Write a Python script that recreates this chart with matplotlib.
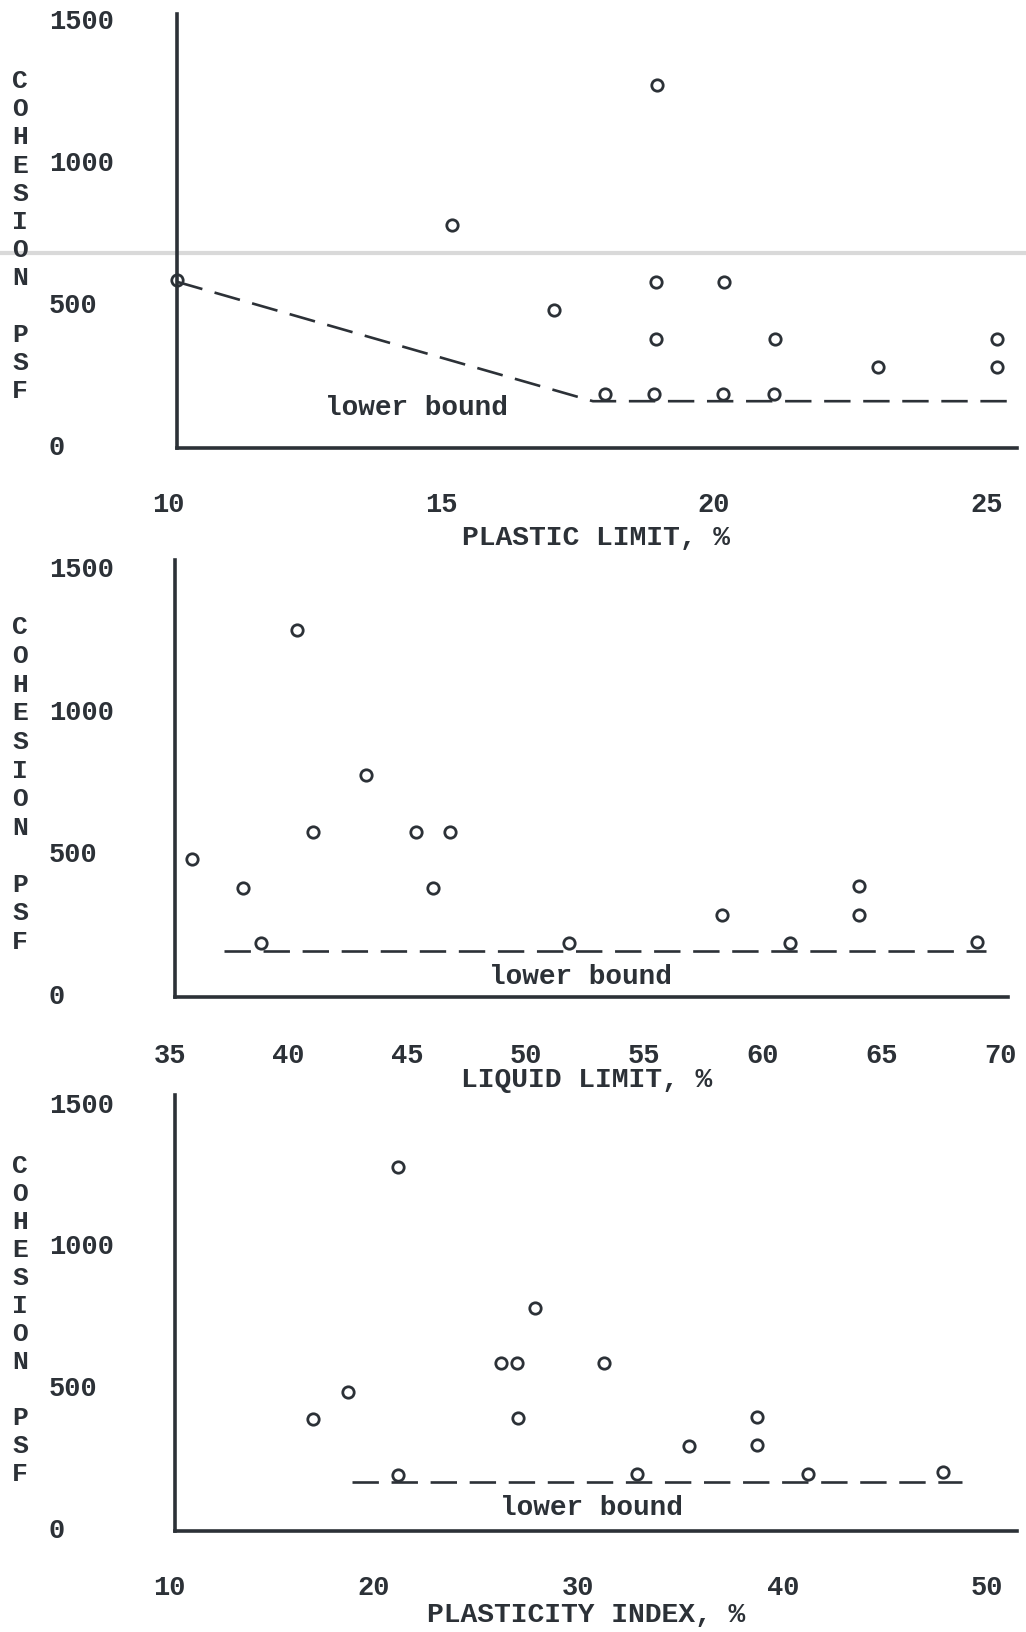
import matplotlib
matplotlib.use('Agg')
import matplotlib.pyplot as plt
import matplotlib.transforms as mtransforms
from matplotlib.lines import Line2D

# Données (cohésion en psf)
pl_x = [10.16, 15.2, 18.96, 17.07, 18.94, 20.19, 18.94, 21.12, 23.0, 25.19, 25.19, 18.0, 18.9, 20.17, 21.1]
pl_y = [590, 785, 1280, 485, 585, 585, 385, 385, 285, 385, 285, 190, 190, 190, 190]
pl_bound_x = [10.16, 17.78, 25.55]
pl_bound_y = [585, 164, 164]

ll_x = [35.93, 38.08, 38.84, 40.36, 41.03, 43.27, 45.38, 46.81, 46.09, 51.83, 58.28, 61.14, 64.05, 64.05, 69.03]
ll_y = [485, 385, 190, 1290, 580, 780, 580, 580, 385, 190, 290, 190, 390, 290, 195]
ll_bound_x = [37.3, 69.4]
ll_bound_y = [163, 163]

pi_x = [17.02, 18.73, 21.18, 21.18, 26.22, 27.0, 27.88, 27.05, 31.25, 32.87, 35.41, 38.73, 38.73, 41.22, 47.83]
pi_y = [393, 491, 1284, 195, 591, 591, 786, 396, 591, 201, 298, 402, 301, 201, 207]
pi_bound_x = [18.93, 48.76]
pi_bound_y = [173, 173]

y_ticks = [0, 500, 1000, 1500]
pl_ticks = [10, 15, 20, 25]
ll_ticks = [35, 40, 45, 50, 55, 60, 65, 70]
pi_ticks = [10, 20, 30, 40, 50]

W, H = 1026, 1632
INK = '#2c3137'
FONT = 'Liberation Mono'

plt.rcParams['font.family'] = [FONT, 'DejaVu Sans Mono']
plt.rcParams['font.weight'] = 'bold'

fig = plt.figure(figsize=(W / 100, H / 100), dpi=100)
fig.patch.set_facecolor('white')

# la trace grise du scan
fig.add_artist(Line2D([0, 1], [1 - 253 / H] * 2, transform=fig.transFigure,
                      color='#d9d9d9', lw=3, zorder=-1))


def panel(box, xs, ys, bx, by, xlim, ylim, xticks, tick_y, xlabel, xlab_pos,
          bound_pos, letters_top, letters_step):
    left, top, right, bottom = box
    ax = fig.add_axes([left / W, 1 - bottom / H, (right - left) / W, (bottom - top) / H])
    ax.patch.set_visible(False)
    ax.set_xlim(*xlim)
    ax.set_ylim(*ylim)
    for s in ['top', 'right']:
        ax.spines[s].set_visible(False)
    for s in ['left', 'bottom']:
        ax.spines[s].set_linewidth(2.6)
        ax.spines[s].set_color(INK)
    ax.set_xticks([])
    ax.set_yticks([])

    # ligne "lower bound"
    ax.plot(bx, by, color=INK, lw=1.9, dashes=(10, 4.8), solid_capstyle='butt', clip_on=False)
    ax.plot(xs, ys, 'o', ms=8.2, mfc='none', mec=INK, mew=2.0, clip_on=False)
    ax.text(bound_pos[0], bound_pos[1], 'lower bound', ha='center', va='center',
            fontsize=20, color=INK)

    # graduations (sans traits)
    ytr = mtransforms.blended_transform_factory(fig.transFigure, ax.transData)
    for v in y_ticks:
        ax.text(49 / W, v, str(v), transform=ytr, ha='left', va='center',
                fontsize=19.5, color=INK)
    xtr = mtransforms.blended_transform_factory(ax.transData, fig.transFigure)
    for t in xticks:
        ax.text(t, 1 - (tick_y + 2) / H, str(t), transform=xtr, ha='center', va='center',
                fontsize=19.5, color=INK)

    fig.text(xlab_pos[0] / W, 1 - xlab_pos[1] / H, xlabel, ha='center', va='center',
             fontsize=20.2, color=INK)

    # titre vertical, lettre par lettre
    for i, ch in enumerate('COHESION PSF'):
        if ch == ' ':
            continue
        fig.text(20 / W, 1 - (letters_top + i * letters_step) / H, ch, ha='center',
                 va='center', fontsize=19, color=INK)
    return ax


panel((177, 13.8, 1017, 447.7), pl_x, pl_y, pl_bound_x, pl_bound_y,
      (10.16, 25.55), (0, 1530), pl_ticks, 503, 'PLASTIC LIMIT, %', (596, 538),
      (14.55, 140), 81, 28.2)

panel((175, 559.6, 1008, 997), ll_x, ll_y, ll_bound_x, ll_bound_y,
      (35.22, 70.33), (0, 1538), ll_ticks, 1054, 'LIQUID LIMIT, %', (587, 1080),
      (52.3, 69), 627.5, 28.6)

panel((175, 1095.2, 1017, 1530.7), pi_x, pi_y, pi_bound_x, pi_bound_y,
      (10.27, 51.45), (0, 1537), pi_ticks, 1586, 'PLASTICITY INDEX, %', (586, 1615),
      (30.65, 79), 1166, 28.0)

fig.savefig('out.png', dpi=100)
